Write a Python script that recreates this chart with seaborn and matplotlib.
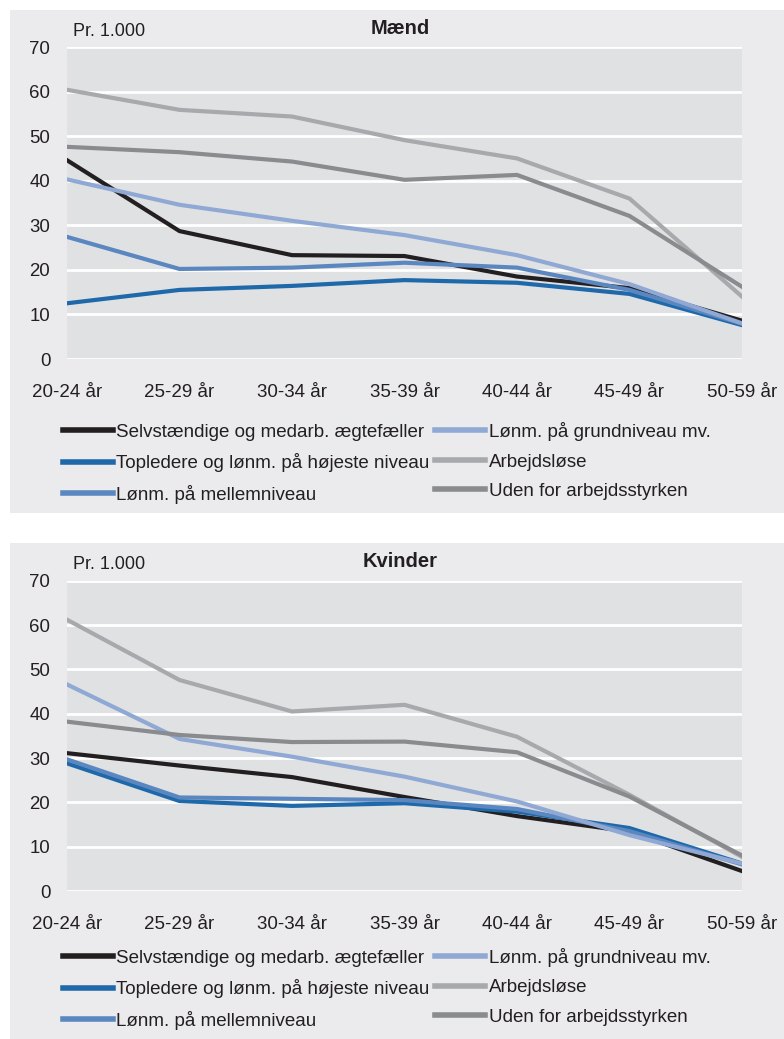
import matplotlib
matplotlib.use("Agg")
import matplotlib.pyplot as plt
from matplotlib.patches import Rectangle
import seaborn as sns
import pandas as pd

# Data -----

categories = ["20-24 år", "25-29 år", "30-34 år", "35-39 år", "40-44 år", "45-49 år", "50-59 år"]
series = [
    "Selvstændige og medarb. ægtefæller",
    "Topledere og lønm. på højeste niveau",
    "Lønm. på mellemniveau",
    "Lønm. på grundniveau mv.",
    "Arbejdsløse",
    "Uden for arbejdsstyrken",
]
colors = ["#231f20", "#1f69ab", "#5b87c1", "#8fa9d4", "#a7a9ac", "#8a8b8e"]

maend_selv = [44.6, 28.7, 23.3, 23.1, 18.5, 15.9, 8.6]
maend_top = [12.5, 15.5, 16.4, 17.7, 17.1, 14.6, 7.6]
maend_mellem = [27.4, 20.2, 20.5, 21.6, 20.5, 15.5, 7.9]
maend_grund = [40.3, 34.6, 31.0, 27.8, 23.3, 16.8, 8.0]
maend_arb = [60.4, 55.9, 54.4, 49.1, 45.0, 36.0, 14.0]
maend_uden = [47.6, 46.4, 44.3, 40.2, 41.3, 32.1, 16.2]

kvinder_selv = [31.1, 28.3, 25.7, 21.2, 16.9, 13.4, 4.5]
kvinder_top = [28.8, 20.3, 19.2, 19.8, 17.9, 14.2, 6.2]
kvinder_mellem = [29.7, 21.1, 20.8, 20.5, 18.5, 13.5, 6.0]
kvinder_grund = [46.6, 34.3, 30.3, 25.8, 20.2, 12.6, 6.2]
kvinder_arb = [61.2, 47.6, 40.5, 42.0, 34.8, 21.7, 7.7]
kvinder_uden = [38.2, 35.2, 33.6, 33.7, 31.3, 21.3, 8.0]

yticks = [0, 10, 20, 30, 40, 50, 60, 70]

panels = [
    ("Mænd", [maend_selv, maend_top, maend_mellem, maend_grund, maend_arb, maend_uden]),
    ("Kvinder", [kvinder_selv, kvinder_top, kvinder_mellem, kvinder_grund, kvinder_arb, kvinder_uden]),
]

# Layout (pixels of a 784x1039 figure) -----

W, H = 784, 1039
panel_bg = "#ebebed"
plot_bg = "#e0e1e3"
text_col = "#231f20"
font = ["Liberation Sans", "DejaVu Sans"]

# panel box top/bottom, axes top/bottom, legend top
boxes = [(10, 513, 47, 359, 422), (543, 1039, 580.7, 891, 948)]

fig = plt.figure(figsize=(W / 100, H / 100), dpi=100)
palette = dict(zip(series, colors))

for (title, values), (btop, bbot, atop, abot, legtop) in zip(panels, boxes):
    fig.patches.append(
        Rectangle((10 / W, 1 - bbot / H), (W - 10) / W, (bbot - btop) / H,
                  transform=fig.transFigure, facecolor=panel_bg, edgecolor="none", zorder=-10)
    )
    ax = fig.add_axes([67 / W, 1 - abot / H, 675 / W, (abot - atop) / H])
    ax.set_facecolor(plot_bg)

    rows = []
    for name, vals in zip(series, values):
        for i, v in enumerate(vals):
            rows.append({"pos": i, "value": v, "serie": name})
    df = pd.DataFrame(rows)

    sns.lineplot(data=df, x="pos", y="value", hue="serie", hue_order=series,
                 palette=palette, linewidth=3, ax=ax, zorder=3)

    ax.set_xlim(0, 6)
    ax.set_ylim(0, 70)
    ax.set_yticks(yticks)
    ax.set_xticks(range(len(categories)))
    ax.set_xticklabels(categories, family=font, fontsize=13.5, color=text_col)
    ax.set_yticklabels([str(t) for t in yticks], family=font, fontsize=13.4, color=text_col)
    ax.tick_params(axis="y", length=0, pad=12)
    ax.tick_params(axis="x", length=0, pad=18)
    ax.grid(axis="y", color="white", linewidth=2, zorder=1)
    ax.set_axisbelow(True)
    for s in ax.spines.values():
        s.set_visible(False)
    ax.set_xlabel("")
    ax.set_ylabel("")

    handles, labels = ax.get_legend_handles_labels()
    ax.get_legend().remove()
    leg = ax.legend(handles, labels, loc="upper left",
                    bbox_to_anchor=(63 / W, 1 - legtop / H), bbox_transform=fig.transFigure,
                    ncol=2, frameon=False, borderpad=0, borderaxespad=0,
                    handlelength=2.65, handletextpad=0.2, columnspacing=0.3,
                    labelspacing=0.66, prop={"family": font, "size": 13.5})
    for h in leg.legend_handles:
        h.set_linewidth(4)
    for t in leg.get_texts():
        t.set_color(text_col)

    fig.text(73 / W, 1 - (atop - 16) / H, "Pr. 1.000", family=font, fontsize=13,
             color=text_col, ha="left", va="center")
    fig.text(400 / W, 1 - (atop - 19) / H, title, family=font, fontsize=14.5,
             weight="bold", color=text_col, ha="center", va="center")

fig.savefig("out.png", dpi=100, facecolor="white")
